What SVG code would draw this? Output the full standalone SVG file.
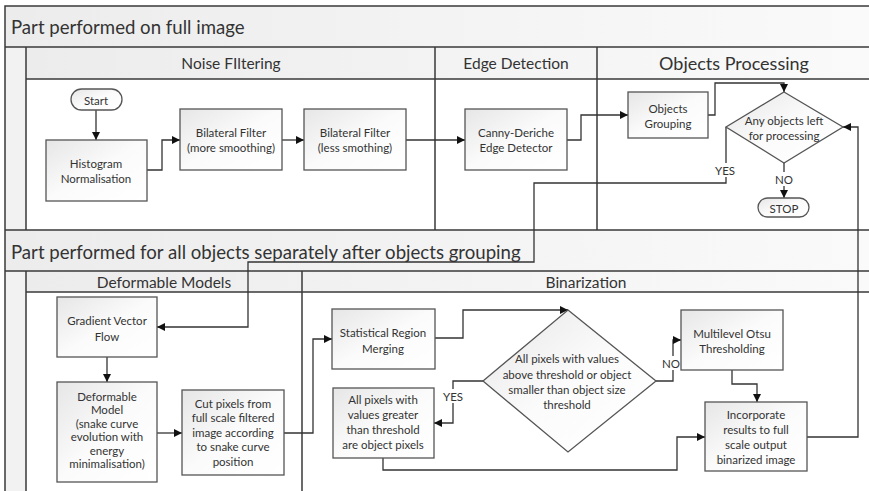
<svg xmlns="http://www.w3.org/2000/svg" width="869" height="491" viewBox="0 0 869 491">
<defs>
<linearGradient id="box" x1="0" y1="0" x2="1" y2="1"><stop offset="0" stop-color="#e6e6e6"/><stop offset="0.5" stop-color="#fbfbfb"/><stop offset="1" stop-color="#ffffff"/></linearGradient>
<linearGradient id="hdr" x1="0" y1="0" x2="1" y2="0"><stop offset="0" stop-color="#ececec"/><stop offset="1" stop-color="#fafafa"/></linearGradient>
<marker id="ah" viewBox="0 0 10 10" refX="10" refY="5" markerWidth="8" markerHeight="8" markerUnits="userSpaceOnUse" orient="auto"><path d="M0,0 L10,5 L0,10 z" fill="#111"/></marker>
<style>
.frame{fill:none;stroke:#3a3a3a;stroke-width:1.5}
.node{fill:url(#box);stroke:#555;stroke-width:1.3}
.conn{fill:none;stroke:#333;stroke-width:1.3}
.t{font-family:Lato,"Open Sans",sans-serif;font-size:11.5px;fill:#333;text-anchor:middle;dominant-baseline:central}
.sec{font-family:Lato,"Open Sans",sans-serif;font-size:18.6px;fill:#333;dominant-baseline:central}
.lane{font-family:Lato,"Open Sans",sans-serif;font-size:15.5px;fill:#333;text-anchor:middle;dominant-baseline:central}
.lbl{fill:#fff}
</style>
</defs>
<rect width="869" height="491" fill="#fff"/>
<g id="frame">
<rect x="5" y="6" width="864" height="41" fill="url(#hdr)"/>
<rect x="5" y="47" width="21" height="183" fill="#f2f2f2"/>
<rect x="26" y="47" width="843" height="32" fill="url(#hdr)"/>
<rect x="5" y="230" width="864" height="41" fill="url(#hdr)"/>
<rect x="5" y="271" width="21" height="220" fill="#f2f2f2"/>
<rect x="26" y="271" width="843" height="21" fill="url(#hdr)"/>
<path class="frame" d="M5,491 V6 H869 M5,47 H869 M26,79 H869 M5,230 H869 M5,271 H869 M26,292 H869 M26,47 V230 M435,47 V230 M597,47 V230 M26,271 V491 M302,271 V491"/>
<text class="sec" x="11" y="27">Part performed on full image</text>
<text class="lane" x="231" y="63">Noise FIltering</text>
<text class="lane" x="516" y="63">Edge Detection</text>
<text class="lane" x="734" y="63" style="font-size:18px">Objects Processing</text>
<text class="sec" x="11" y="252">Part performed for all objects separately after objects grouping</text>
<text class="lane" x="164" y="282">Deformable Models</text>
<text class="lane" x="586" y="282">Binarization</text>
</g>
<g id="connectors">
<path class="conn" d="M96,110 V140" marker-end="url(#ah)"/>
<path class="conn" d="M147,170 H162 V140 H180" marker-end="url(#ah)"/>
<path class="conn" d="M282,140 H304" marker-end="url(#ah)"/>
<path class="conn" d="M406,140 H465" marker-end="url(#ah)"/>
<path class="conn" d="M567,140 H581 V115 H628" marker-end="url(#ah)"/>
<path class="conn" d="M708,115 H715 V83 H784 V92" marker-end="url(#ah)"/>
<path class="conn" d="M784,163 V198" marker-end="url(#ah)"/>
<path class="conn" d="M726,127 V183 H534 V262 H248 V327 H157" marker-end="url(#ah)"/>
<path class="conn" d="M807,437 H858 V127 H843" marker-end="url(#ah)"/>
<path class="conn" d="M107,357 V382" marker-end="url(#ah)"/>
<path class="conn" d="M157,433 H182" marker-end="url(#ah)"/>
<path class="conn" d="M284,433 H313 V339 H332" marker-end="url(#ah)"/>
<path class="conn" d="M435,338 H463 V310 H568" marker-end="url(#ah)"/>
<path class="conn" d="M483,381 H453 V423 H434" marker-end="url(#ah)"/>
<path class="conn" d="M656,381 H673 V340 H681" marker-end="url(#ah)"/>
<path class="conn" d="M732,370 V384 H757 V402" marker-end="url(#ah)"/>
<path class="conn" d="M383,458 V470 H677 V437 H705" marker-end="url(#ah)"/>
<rect class="lbl" x="711" y="163" width="29" height="14"/>
<text class="t" x="725" y="170">YES</text>
<rect class="lbl" x="773" y="172" width="22" height="14"/>
<text class="t" x="784" y="179">NO</text>
<rect class="lbl" x="439" y="389" width="29" height="14"/>
<text class="t" x="453" y="396">YES</text>
<rect class="lbl" x="661" y="356" width="21" height="14"/>
<text class="t" x="671" y="363">NO</text>
</g>
<g id="start">
<rect class="node" x="71" y="89" width="51" height="21" rx="10.5"/>
<text class="t" x="96" y="100">Start</text>
</g>
<g id="histogram">
<rect class="node" x="46" y="140" width="101" height="61"/>
<text class="t" x="96" y="163">Histogram</text>
<text class="t" x="96" y="178">Normalisation</text>
</g>
<g id="bilateral1">
<rect class="node" x="180" y="109" width="102" height="61"/>
<text class="t" x="231" y="132">Bilateral Filter</text>
<text class="t" x="231" y="147">(more smoothing)</text>
</g>
<g id="bilateral2">
<rect class="node" x="304" y="109" width="102" height="61"/>
<text class="t" x="355" y="132">Bilateral Filter</text>
<text class="t" x="355" y="147">(less smothing)</text>
</g>
<g id="canny">
<rect class="node" x="465" y="109" width="102" height="61"/>
<text class="t" x="516" y="132">Canny-Deriche</text>
<text class="t" x="516" y="147">Edge Detector</text>
</g>
<g id="grouping">
<rect class="node" x="628" y="92" width="80" height="46"/>
<text class="t" x="668" y="108">Objects</text>
<text class="t" x="668" y="123">Grouping</text>
</g>
<g id="anyleft">
<path class="node" d="M784,92 L843,127 L784,163 L726,127 Z"/>
<text class="t" x="784" y="120">Any objects left</text>
<text class="t" x="784" y="135">for processing</text>
</g>
<g id="stop">
<rect class="node" x="758" y="198" width="51" height="19" rx="9.5"/>
<text class="t" x="784" y="208">STOP</text>
</g>
<g id="gvf">
<rect class="node" x="57" y="297" width="100" height="60"/>
<text class="t" x="107" y="320">Gradient Vector</text>
<text class="t" x="107" y="336">Flow</text>
</g>
<g id="deformable">
<rect class="node" x="57" y="382" width="100" height="100"/>
<text class="t" x="107" y="396">Deformable</text>
<text class="t" x="107" y="409.5">Model</text>
<text class="t" x="107" y="423">(snake curve</text>
<text class="t" x="107" y="436.5">evolution with</text>
<text class="t" x="107" y="450">energy</text>
<text class="t" x="107" y="463.5">minimalisation)</text>
</g>
<g id="cut">
<rect class="node" x="182" y="390" width="102" height="85"/>
<text class="t" x="233" y="403">Cut pixels from</text>
<text class="t" x="233" y="417.5">full scale filtered</text>
<text class="t" x="233" y="432">image according</text>
<text class="t" x="233" y="446.5">to snake curve</text>
<text class="t" x="233" y="461">position</text>
</g>
<g id="srm">
<rect class="node" x="332" y="309" width="103" height="60"/>
<text class="t" x="383" y="332">Statistical Region</text>
<text class="t" x="383" y="348">Merging</text>
</g>
<g id="allpixels">
<rect class="node" x="333" y="388" width="101" height="70"/>
<text class="t" x="383" y="399">All pixels with</text>
<text class="t" x="383" y="414">values greater</text>
<text class="t" x="383" y="429">than threshold</text>
<text class="t" x="383" y="444.5">are object pixels</text>
</g>
<g id="condition">
<path class="node" d="M568,310 L656,381 L568,452 L483,381 Z"/>
<text class="t" x="567" y="358">All pixels with values</text>
<text class="t" x="567" y="374">above threshold or object</text>
<text class="t" x="567" y="389">smaller than  object size</text>
<text class="t" x="567" y="404">threshold</text>
</g>
<g id="otsu">
<rect class="node" x="681" y="310" width="102" height="60"/>
<text class="t" x="732" y="333">Multilevel Otsu</text>
<text class="t" x="732" y="348">Thresholding</text>
</g>
<g id="incorporate">
<rect class="node" x="705" y="402" width="102" height="69"/>
<text class="t" x="756" y="414">Incorporate</text>
<text class="t" x="756" y="429">results to full</text>
<text class="t" x="756" y="444">scale output</text>
<text class="t" x="756" y="459">binarized image</text>
</g>
</svg>
